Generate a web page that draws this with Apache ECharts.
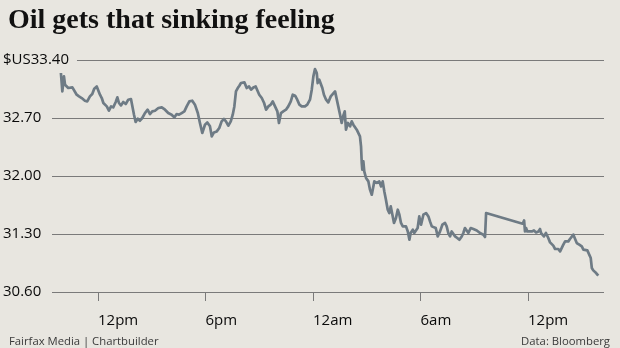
<!DOCTYPE html>
<html>
<head>
<meta charset="utf-8">
<script src="https://cdn.jsdelivr.net/npm/echarts@6/dist/echarts.min.js"></script>
<style>
  html, body { margin: 0; padding: 0; background: #e8e6e0; }
  #chart { width: 620px; height: 348px; }
</style>
</head>
<body>
<div id="chart"></div>
<script>
// Oil price, hours relative to the first 12pm mark
const hours = [
  -2.07, -1.99, -1.90, -1.84, -1.75, -1.66, -1.56, -1.43, -1.32, -1.19,
  -1.06, -0.91, -0.73, -0.60, -0.45, -0.32, -0.21, -0.07, 0.02, 0.11,
  0.21, 0.30, 0.39, 0.49, 0.61, 0.73, 0.85, 0.99, 1.08, 1.17,
  1.28, 1.41, 1.55, 1.69, 1.84, 1.94, 2.01, 2.10, 2.22, 2.34,
  2.47, 2.62, 2.77, 2.90, 3.03, 3.18, 3.37, 3.56, 3.74, 3.92,
  4.11, 4.26, 4.39, 4.52, 4.67, 4.82, 4.95, 5.10, 5.26, 5.41,
  5.57, 5.69, 5.82, 5.97, 6.10, 6.25, 6.35, 6.47, 6.63, 6.77,
  6.90, 7.03, 7.14, 7.27, 7.41, 7.52, 7.61, 7.70, 7.80, 7.89,
  7.98, 8.08, 8.17, 8.30, 8.43, 8.54, 8.67, 8.80, 8.89, 9.00,
  9.14, 9.27, 9.38, 9.51, 9.64, 9.75, 9.88, 10.01, 10.10, 10.21,
  10.34, 10.49, 10.62, 10.76, 10.87, 11.00, 11.12, 11.24, 11.37, 11.55,
  11.68, 11.83, 11.93, 12.02, 12.11, 12.21, 12.26, 12.35, 12.43, 12.52,
  12.61, 12.73, 12.85, 12.99, 13.10, 13.23, 13.32, 13.41, 13.51, 13.60,
  13.69, 13.77, 13.84, 13.95, 14.07, 14.16, 14.25, 14.34, 14.44, 14.53,
  14.62, 14.68, 14.72, 14.75, 14.81, 14.86, 14.96, 15.09, 15.18, 15.28,
  15.37, 15.42, 15.56, 15.70, 15.80, 15.89, 15.98, 16.07, 16.17, 16.26,
  16.34, 16.43, 16.52, 16.63, 16.73, 16.82, 16.91, 17.01, 17.10, 17.19,
  17.29, 17.38, 17.45, 17.57, 17.65, 17.75, 17.84, 17.93, 18.03, 18.16,
  18.31, 18.44, 18.53, 18.63, 18.71, 18.85, 18.96, 19.09, 19.22, 19.37,
  19.46, 19.55, 19.65, 19.74, 19.83, 19.93, 20.05, 20.17, 20.30, 20.39,
  20.48, 20.58, 20.67, 20.80, 20.95, 21.14, 21.32, 21.51, 21.60, 21.66,
  23.70, 23.78, 23.83, 23.89, 23.96, 24.07, 24.21, 24.33, 24.45, 24.58,
  24.67, 24.73, 24.82, 24.89, 25.00, 25.13, 25.23, 25.32, 25.41, 25.51,
  25.60, 25.69, 25.79, 25.88, 25.97, 26.07, 26.16, 26.25, 26.34, 26.44,
  26.53, 26.62, 26.72, 26.86, 27.00, 27.09, 27.18, 27.31, 27.42, 27.50,
  27.56, 27.64, 27.80, 27.92
];

// $US per barrel
const prices = [
  33.243, 33.021, 33.202, 33.102, 33.122, 33.062, 33.081, 33.069, 33.081, 32.981,
  32.961, 32.941, 32.909, 32.900, 32.961, 32.990, 33.054, 33.081, 33.069, 32.981,
  32.941, 32.881, 32.900, 32.840, 32.788, 32.840, 32.828, 32.893, 32.949, 32.881,
  32.852, 32.893, 32.869, 32.921, 32.929, 32.909, 32.740, 32.652, 32.692, 32.667,
  32.700, 32.760, 32.800, 32.748, 32.780, 32.788, 32.821, 32.828, 32.800, 32.760,
  32.740, 32.707, 32.748, 32.740, 32.760, 32.780, 32.840, 32.900, 32.909, 32.861,
  32.760, 32.640, 32.519, 32.619, 32.647, 32.599, 32.478, 32.526, 32.538, 32.579,
  32.659, 32.688, 32.659, 32.607, 32.659, 32.740, 32.840, 33.021, 33.062, 33.090,
  33.122, 33.102, 33.130, 33.062, 33.081, 33.042, 33.069, 33.081, 33.102, 32.981,
  32.941, 32.881, 32.800, 32.840, 32.861, 32.900, 32.840, 32.780, 32.640, 32.760,
  32.780, 32.800, 32.840, 32.900, 32.981, 32.969, 32.921, 32.861, 32.840, 32.840,
  32.861, 32.921, 33.042, 33.202, 33.291, 33.243, 33.122, 33.162, 33.171, 33.062,
  32.981, 32.921, 32.888, 32.961, 32.969, 33.021, 33.002, 32.840, 32.740, 32.640,
  32.728, 32.780, 32.559, 32.640, 32.599, 32.659, 32.619, 32.640, 32.559, 32.538,
  32.478, 32.357, 32.157, 32.076, 32.176, 32.056, 31.976, 31.935, 31.835, 31.774,
  31.795, 31.935, 31.916, 31.935, 31.874, 31.935, 31.814, 31.714, 31.593, 31.553,
  31.633, 31.533, 31.433, 31.493, 31.593, 31.533, 31.433, 31.392, 31.372, 31.392,
  31.331, 31.231, 31.312, 31.352, 31.312, 31.292, 31.372, 31.512, 31.412, 31.533,
  31.553, 31.512, 31.452, 31.392, 31.412, 31.372, 31.271, 31.331, 31.412, 31.433,
  31.392, 31.312, 31.271, 31.331, 31.312, 31.271, 31.252, 31.231, 31.271, 31.312,
  31.372, 31.352, 31.312, 31.372, 31.360, 31.343, 31.312, 31.292, 31.264, 31.553,
  31.424, 31.464, 31.331, 31.372, 31.331, 31.343, 31.331, 31.343, 31.319, 31.331,
  31.360, 31.312, 31.331, 31.271, 31.312, 31.252, 31.199, 31.191, 31.159, 31.119,
  31.102, 31.119, 31.090, 31.111, 31.171, 31.211, 31.231, 31.211, 31.240, 31.252,
  31.292, 31.279, 31.191, 31.171, 31.150, 31.111, 31.119, 31.102, 31.078, 31.010,
  30.890, 30.861, 30.829, 30.797
];

const priceTicks = [30.6, 31.3, 32.0, 32.7, 33.4];
const timeTicks = [0, 6, 12, 18, 24];
const timeLabels = ['12pm', '6pm', '12am', '6am', '12pm'];

const series = hours.map((h, i) => [h, prices[i]]);

const chart = echarts.init(document.getElementById('chart'), null, { renderer: 'canvas' });

chart.setOption({
  backgroundColor: '#e8e6e0',
  animation: false,
  title: [
    {
      text: 'Oil gets that sinking feeling',
      left: 3,
      top: 2,
      textStyle: {
        fontFamily: 'Liberation Serif',
        fontWeight: 'bold',
        fontSize: 28,
        color: '#111'
      }
    },
    {
      text: 'Fairfax Media | Chartbuilder',
      left: 4,
      top: 331,
      textStyle: { fontFamily: 'Open Sans', fontWeight: 'normal', fontSize: 11.3, color: '#3a3a3a' }
    },
    {
      text: 'Data: Bloomberg',
      right: 5,
      top: 331,
      textStyle: { fontFamily: 'Open Sans', fontWeight: 'normal', fontSize: 11.3, color: '#3a3a3a' }
    }
  ],
  grid: { left: 52, right: 16, top: 60, bottom: 56, containLabel: false },
  xAxis: {
    type: 'value',
    min: -2.567,
    max: 28.24,
    axisLine: { show: false },
    splitLine: { show: false },
    axisTick: {
      show: true,
      customValues: timeTicks,
      length: 9,
      inside: false,
      lineStyle: { color: '#7a7a7a', width: 1 }
    },
    axisLabel: {
      customValues: timeTicks,
      align: 'left',
      margin: 21,
      fontFamily: 'Open Sans',
      fontSize: 15,
      color: '#0a0a0a',
      formatter: (v) => timeLabels[timeTicks.indexOf(v)]
    }
  },
  yAxis: {
    type: 'value',
    min: 30.6,
    max: 33.4,
    axisLine: { show: false },
    axisTick: { show: false, customValues: priceTicks },
    splitLine: { show: true, lineStyle: { color: '#7a7a7a', width: 1 } },
    axisLabel: {
      customValues: priceTicks,
      align: 'left',
      margin: 49,
      fontFamily: 'Open Sans',
      fontSize: 15,
      color: '#0a0a0a',
      formatter: (v) => (v === 33.4 ? '{top|$US33.40}' : v.toFixed(2)),
      rich: {
        top: {
          fontFamily: 'Open Sans',
          fontSize: 15,
          color: '#0a0a0a',
          backgroundColor: '#e8e6e0',
          padding: [2, 8, 2, 0]
        }
      }
    }
  },
  series: [
    {
      type: 'line',
      data: series,
      showSymbol: false,
      symbol: 'none',
      lineStyle: { color: '#6e7b85', width: 2.7, join: 'round' },
      clip: false
    }
  ]
});
</script>
</body>
</html>
